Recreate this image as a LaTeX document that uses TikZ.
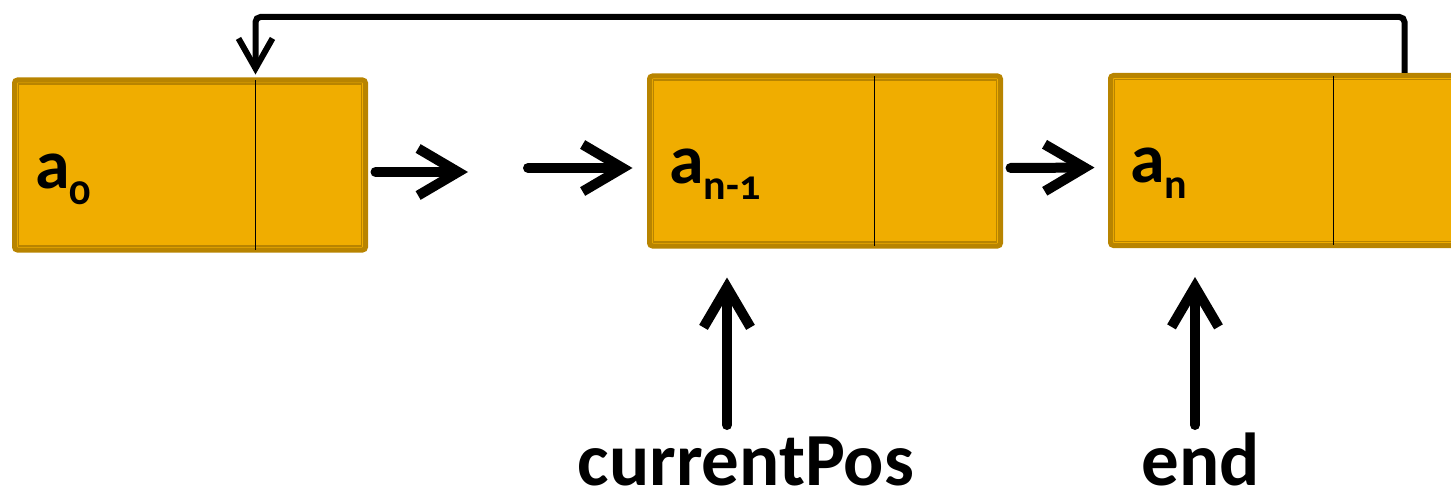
\documentclass[tikz,border=0pt]{standalone}
\usepackage{fontspec}
\setmainfont{Carlito}[Numbers=OldStyle]
\usetikzlibrary{arrows.meta}
\definecolor{cellfill}{HTML}{F0AD00}
\definecolor{celledge}{HTML}{B88400}
\newcommand\idx[1]{\raisebox{-16pt}{\fontsize{42}{42}\selectfont #1}}

\begin{document}
\begin{tikzpicture}[x=1pt,y=-1pt,
  cell/.style={draw=celledge,line width=5pt,fill=cellfill,rounded corners=3pt,
    minimum width=351pt,minimum height=170pt,inner sep=0pt},
  inner/.style={draw=celledge,line width=1.5pt},
  split/.style={draw=black,line width=1.2pt},
  elem/.style={anchor=base west,inner sep=0pt,font=\bfseries\fontsize{70}{84}\selectfont},
  ptr/.style={anchor=base,inner sep=0pt,font=\bfseries\fontsize{75}{90}\selectfont},
  link/.style={line width=10pt,line cap=round,-{Straight Barb[length=40pt,width=47pt]}},
  back/.style={line width=6pt,rounded corners=5pt,-{Straight Barb[length=30pt,width=34pt]}}]

  \useasboundingbox (0,0) rectangle (1451,495);
  \clip (0,0) rectangle (1451,495);

  % list cells
  \node[cell] (a0) at (190,165) {};
  \node[cell] (an1) at (825,161) {};
  \node[cell] (an) at (1286,160.5) {};

  \foreach \n/\d in {a0/243.5,an1/227.5,an/225.5} {
    \draw[inner] ([shift={(6.5,6.5)}]\n.north west) rectangle ([shift={(-6.5,-6.5)}]\n.south east);
    \draw[split] ([xshift=\d pt,yshift=-3pt]\n.north west) -- ([xshift=\d pt,yshift=3pt]\n.south west);
  }

  \node[elem] (l0) at ([shift={(23,23)}]a0.west) {a\idx{0}};
  \node[elem] (l1) at ([shift={(22,22)}]an1.west) {a\idx{n-1}};
  \node[elem] (l2) at ([shift={(22,22)}]an.west) {a\idx{n}};

  % next pointers
  \coordinate (gapL) at (468,172);
  \coordinate (gapR) at (528,168);
  \draw[link,shorten <=7.5pt] ([yshift=-7pt]a0.east) -- (gapL);
  \draw[link,shorten >=14.5pt] (gapR) -- (gapR -| an1.west);
  \draw[link,shorten <=7.5pt,shorten >=13.5pt] ([yshift=-7pt]an1.east) -- ([yshift=-7pt]an.west);

  % wrap around
  \coordinate (hook) at ([xshift=243.5pt]a0.north west);
  \coordinate (ret) at ([xshift=296.5pt]an.north west);
  \coordinate (roof) at (0,17);
  \draw[back,shorten >=3pt] (ret) |- (roof -| hook) -- (hook);

  % iterators
  \node[ptr] (cur) at (746,485) {currentPos};
  \node[ptr] (fin) at (1201,485) {end};
  \coordinate (curfoot) at (727,425);
  \coordinate (endfoot) at (1195,425);
  \draw[link,shorten >=29pt] (curfoot) -- (curfoot |- an1.south);
  \draw[link,shorten >=29pt] (endfoot) -- (endfoot |- an.south);
\end{tikzpicture}
\end{document}
